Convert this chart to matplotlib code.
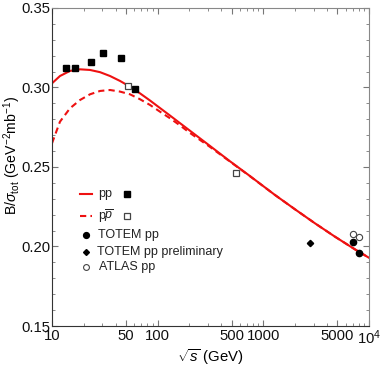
import matplotlib
matplotlib.use("Agg")
import matplotlib.pyplot as plt
from matplotlib.lines import Line2D
from matplotlib.ticker import FixedLocator, NullFormatter, MultipleLocator, FormatStrFormatter

plt.rcParams['font.family'] = ['Liberation Sans', 'DejaVu Sans']
plt.rcParams['mathtext.fontset'] = 'custom'
plt.rcParams['mathtext.rm'] = 'Liberation Sans'
plt.rcParams['mathtext.it'] = 'Liberation Sans:italic'

# model curves (sqrt(s) in GeV, B/sigma_tot)
pp_x = [10, 11.9, 14.8, 18.4, 22.9, 28.5, 35.4, 44.0, 54.7, 68.0, 84.6, 105, 131, 163,
        202, 313, 483, 747, 1288, 1991, 3077, 4755, 7360, 10000]
pp_y = [0.3026, 0.3072, 0.3104, 0.3114, 0.3110, 0.3096, 0.3072, 0.3041, 0.3005, 0.2963,
        0.2918, 0.2871, 0.2823, 0.2775, 0.2728, 0.2632, 0.2536, 0.2443, 0.2324, 0.2234,
        0.2146, 0.2062, 0.1982, 0.1929]
ppbar_x = [10, 11.9, 14.8, 18.4, 22.9, 28.5, 35.4, 44.0, 54.7, 68.0, 84.6, 105, 131, 163,
           202, 313, 483, 747, 1288, 1991, 3077, 4755, 7360, 10000]
ppbar_y = [0.2649, 0.2785, 0.2869, 0.2921, 0.2957, 0.2978, 0.2984, 0.2974, 0.2957, 0.2926,
           0.2890, 0.2848, 0.2806, 0.2761, 0.2714, 0.2626, 0.2534, 0.2442, 0.2324, 0.2234,
           0.2146, 0.2062, 0.1982, 0.1929]

# data points
pp_data_x = [13.6, 16.6, 23.4, 30.3, 44.7, 61.4]
pp_data_y = [0.3123, 0.3125, 0.3162, 0.3217, 0.3184, 0.2989]
ppbar_data_x = [52.0, 546]
ppbar_data_y = [0.3010, 0.2464]
totem_x = [7000, 8000]
totem_y = [0.2026, 0.1959]
totem_prel_x = [2760]
totem_prel_y = [0.2022]
atlas_x = [7000, 8000]
atlas_y = [0.2077, 0.2058]

x_major = [10, 50, 100, 500, 1000, 5000, 10000]
x_major_labels = ['10', '50', '100', '500', '1000', '5000', r'$10^4$']

fig = plt.figure(figsize=(3.81, 3.69), dpi=100)
ax = fig.add_axes([0.1365, 0.1165, 0.832, 0.862])

red = '#ee1111'
ax.plot(pp_x, pp_y, color=red, lw=1.5)
ax.plot(ppbar_x, ppbar_y, color=red, lw=1.5, ls=(0, (3, 2)))
ax.plot(pp_data_x, pp_data_y, 's', color='black', ms=4.6)
ax.plot(ppbar_data_x, ppbar_data_y, 's', mfc='white', mec='#444444', ms=4.6, mew=0.9)
ax.plot(totem_x, totem_y, 'o', color='black', ms=4.5)
ax.plot(totem_prel_x, totem_prel_y, 'D', color='black', ms=3.2)
ax.plot(atlas_x, atlas_y, 'o', mfc='white', mec='#444444', ms=4.5, mew=0.8)

ax.set_xscale('log')
ax.set_xlim(10, 10000)
ax.set_ylim(0.15, 0.35)
ax.xaxis.set_major_locator(FixedLocator(x_major))
ax.set_xticklabels(x_major_labels)
minors = [m * 10**e for e in range(1, 4) for m in range(2, 10)]
ax.xaxis.set_minor_locator(FixedLocator([v for v in minors if v not in x_major]))
ax.xaxis.set_minor_formatter(NullFormatter())
ax.yaxis.set_major_locator(MultipleLocator(0.05))
ax.yaxis.set_minor_locator(MultipleLocator(0.01))
ax.yaxis.set_major_formatter(FormatStrFormatter('%.2f'))
ax.tick_params(which='both', direction='in', top=True, right=True, color='#777777',
               labelsize=10.7, labelcolor='#111111')
ax.tick_params(which='major', length=4, width=0.8)
ax.tick_params(which='minor', length=2, width=0.6)
ax.tick_params(axis='x', pad=2)
ax.tick_params(axis='y', pad=1)
for s in ['left', 'bottom']:
    ax.spines[s].set_color('#333333')
for s in ['top', 'right']:
    ax.spines[s].set_color('#888888')

ax.set_xlabel(r'$\sqrt{s}$ (GeV)', fontsize=10.7, va='top')
ax.xaxis.set_label_coords(0.5, -0.066)
ax.set_ylabel(r'B/$\sigma_{\mathrm{tot}}$ (GeV$^{-2}$mb$^{-1}$)', fontsize=10.2,
              ha='center', va='center', rotation_mode='default')
ax.yaxis.set_label_coords(-0.126, 0.535)

# legend built by hand
def ax_frac(px, py):
    x0, y0 = 52, 326
    return ((px - x0) / (369 - 52), (y0 - py) / (326 - 8))

tf = ax.transAxes
rows = [194, 216, 235, 251.7, 267.3]
for i, ls in enumerate(['-', (0, (3, 2))]):
    a, b = ax_frac(80, rows[i]), ax_frac(92, rows[i])
    ax.add_line(Line2D([a[0], b[0]], [a[1], b[1]], transform=tf, color=red, lw=1.5, ls=ls))
p = ax_frac(127, rows[0])
ax.add_line(Line2D([p[0]], [p[1]], transform=tf, marker='s', color='black', ms=4.5))
p = ax_frac(127, rows[1])
ax.add_line(Line2D([p[0]], [p[1]], transform=tf, marker='s', mfc='white', mec='#444444', ms=4.5, mew=0.9))
p = ax_frac(86, rows[2])
ax.add_line(Line2D([p[0]], [p[1]], transform=tf, marker='o', color='black', ms=4.2))
p = ax_frac(86, rows[3])
ax.add_line(Line2D([p[0]], [p[1]], transform=tf, marker='D', color='black', ms=3.0))
p = ax_frac(86, rows[4])
ax.add_line(Line2D([p[0]], [p[1]], transform=tf, marker='o', mfc='white', mec='#444444', ms=4.2, mew=0.8))
labels = ['pp', r'p$\overline{p}$', 'TOTEM pp', 'TOTEM pp preliminary', 'ATLAS pp']
lx = [98, 98, 98, 97, 99]
for i, t in enumerate(labels):
    p = ax_frac(lx[i], rows[i])
    ax.text(p[0], p[1], t, transform=tf, fontsize=9, va='center', ha='left', color='#222222')

fig.savefig('out.png', dpi=100)
